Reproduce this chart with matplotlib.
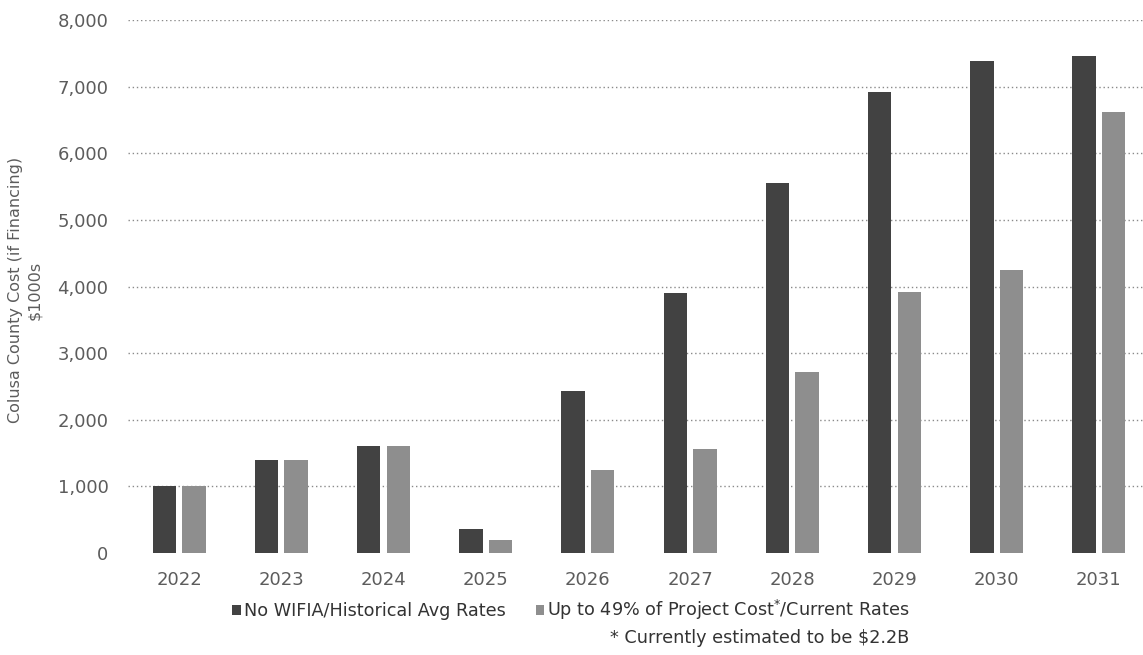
import matplotlib
matplotlib.use("Agg")
import matplotlib.pyplot as plt
import numpy as np

years = ["2022", "2023", "2024", "2025", "2026", "2027", "2028", "2029", "2030", "2031"]
no_wifia = [1000, 1400, 1600, 360, 2430, 3900, 5550, 6920, 7390, 7460]
up_to_49 = [1000, 1400, 1600, 190, 1240, 1560, 2710, 3910, 4250, 6620]
y_ticks = [0, 1000, 2000, 3000, 4000, 5000, 6000, 7000, 8000]

series_names = ["No WIFIA/Historical Avg Rates",
                "Up to 49% of Project Cost$^{*}$/Current Rates"]
footnote = "* Currently estimated to be $2.2B"

dark = "#424242"
light = "#8e8e8e"
text_col = "#5c5c5c"

plt.rcParams["font.family"] = ["DejaVu Sans"]

fig = plt.figure(figsize=(11.43, 6.55), dpi=100)
ax = fig.add_axes([128 / 1143, 1 - 553 / 655, 1022 / 1143, 533 / 655])

x = np.arange(len(years))
w = 0.23
off = 0.145
b1 = ax.bar(x - off, no_wifia, width=w, color=dark, zorder=3,
            label=series_names[0])
b2 = ax.bar(x + off, up_to_49, width=w, color=light, zorder=3,
            label=series_names[1])

ax.set_xlim(-0.5, len(years) - 0.5)
ax.set_ylim(0, 8000)
ax.set_yticks(y_ticks)
ax.set_yticklabels([f"{v:,}" for v in y_ticks])
ax.set_xticks(x)
ax.set_xticklabels(years)

for v in y_ticks[1:]:
    ax.axhline(v, color="#8a8a8a", linestyle=(0, (1, 2)), linewidth=1.0, zorder=1)

for s in ax.spines.values():
    s.set_visible(False)
ax.tick_params(axis="both", length=0, labelsize=13, labelcolor=text_col)
ax.tick_params(axis="y", pad=14)
ax.tick_params(axis="x", pad=13)

fig.text(25 / 1143, 1 - 290 / 655, "Colusa County Cost (if Financing)\n$1000s",
         rotation=90, ha="center", va="center", fontsize=11.5,
         color=text_col, linespacing=1.35)

leg = fig.legend(handles=[b1, b2], loc="center", bbox_to_anchor=(571 / 1143, 1 - 610 / 655),
                 ncol=2, frameon=False, fontsize=12.7, handlelength=0.5, handleheight=0.5,
                 handletextpad=0.15, columnspacing=1.7, borderpad=0, borderaxespad=0)
for t in leg.get_texts():
    t.set_color("#333333")

fig.text(909 / 1143, 1 - 638 / 655, footnote, ha="right", va="center",
         fontsize=12.7, color="#333333")

fig.savefig("out.png", dpi=100)
